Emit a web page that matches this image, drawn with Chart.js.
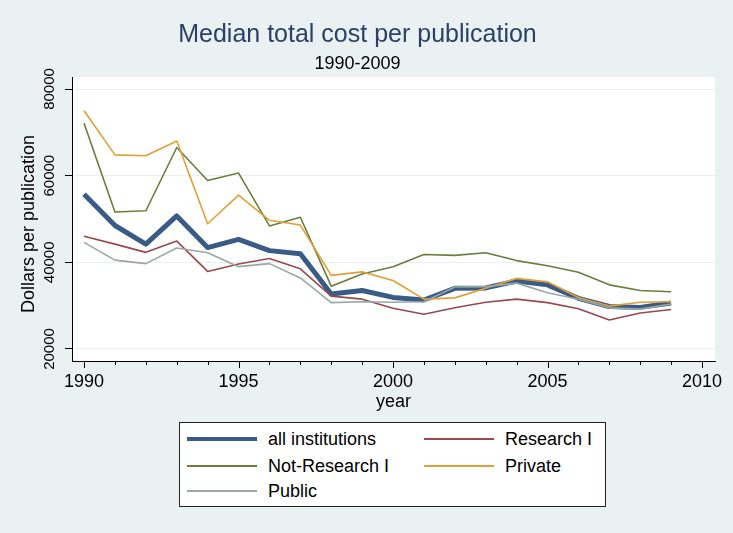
<!DOCTYPE html>
<html>
<head>
<meta charset="utf-8">
<script src="https://cdn.jsdelivr.net/npm/chart.js@4"></script>
<style>
  html, body { margin: 0; padding: 0; background: #eaf1f3; }
  #wrap { position: relative; width: 733px; height: 533px; }
  #legend {
    position: absolute; left: 179px; top: 422px; width: 425px; height: 83px;
    background: #fff; border: 1px solid #222;
    font-family: 'Liberation Sans', Arial, sans-serif; font-size: 18px; color: #000;
  }
  .item { position: absolute; height: 24px; }
  .swatch { position: absolute; left: 0; width: 70px; }
  .item span { position: absolute; left: 81px; top: 0; line-height: 24px; white-space: nowrap; }
</style>
</head>
<body>
<div id="wrap">
  <canvas id="costChart" width="733" height="533"></canvas>
  <div id="legend"></div>
</div>
<script>
const years = [1990, 1991, 1992, 1993, 1994, 1995, 1996, 1997, 1998, 1999,
               2000, 2001, 2002, 2003, 2004, 2005, 2006, 2007, 2008, 2009];

const allInstitutions = [55700, 48500, 44200, 50700, 43400, 45300, 42700, 42000, 32700, 33500,
                         31900, 31300, 34000, 34100, 35700, 34800, 31700, 29800, 29600, 30600];
const researchI = [46000, 44200, 42300, 44900, 37900, 39600, 40900, 38500, 32200, 31500,
                   29400, 28000, 29500, 30800, 31500, 30700, 29300, 26700, 28300, 29100];
const notResearchI = [72100, 51600, 51900, 66500, 58900, 60600, 48400, 50400, 34500, 37300,
                      39000, 41800, 41600, 42200, 40400, 39200, 37700, 34800, 33500, 33200];
const privateInst = [75000, 64800, 64600, 68000, 48900, 55500, 49700, 48600, 37000, 37800,
                     35800, 31500, 31800, 34000, 36300, 35500, 31900, 29900, 30800, 30900];
const publicInst = [44600, 40500, 39700, 43300, 42200, 39000, 39700, 36400, 30700, 30900,
                    30800, 30900, 34300, 34400, 35200, 33000, 31500, 29500, 29200, 30400];

const seriesNames = ['all institutions', 'Research I', 'Not-Research I', 'Private', 'Public'];
const yTicks = [20000, 40000, 60000, 80000];
const xLabels = [1990, 1995, 2000, 2005, 2010];
const xMinor = [1990, 1991, 1992, 1993, 1994, 1995, 1996, 1997, 1998, 1999, 2000,
                2001, 2002, 2003, 2004, 2005, 2006, 2007, 2008, 2009, 2010];

const FONT = "'Liberation Sans', Arial, sans-serif";
Chart.defaults.font.family = FONT;
Chart.defaults.color = '#000';

function series(values) {
    return values.map((v, i) => ({ x: years[i], y: v }));
}

const datasets = [
    { label: seriesNames[0], data: series(allInstitutions), borderColor: '#3b5b87', borderWidth: 5, order: 5 },
    { label: seriesNames[1], data: series(researchI), borderColor: '#98494e', borderWidth: 1.6, order: 4 },
    { label: seriesNames[2], data: series(notResearchI), borderColor: '#6b7d3c', borderWidth: 1.6, order: 3 },
    { label: seriesNames[3], data: series(privateInst), borderColor: '#e0a035', borderWidth: 1.6, order: 2 },
    { label: seriesNames[4], data: series(publicInst), borderColor: '#98a8a6', borderWidth: 1.6, order: 1 }
];
datasets.forEach(d => {
    d.pointRadius = 0;
    d.tension = 0;
    d.fill = false;
    d.borderJoinStyle = 'round';
});

// white plot region, minor x ticks, vertical y labels and y title
const stataAxes = {
    id: 'stataAxes',
    beforeDraw(chart) {
        const { ctx, chartArea: a } = chart;
        ctx.save();
        ctx.fillStyle = '#fff';
        ctx.fillRect(a.left, a.top, a.right - a.left, a.bottom - a.top);
        ctx.restore();
    },
    afterDraw(chart) {
        const { ctx, chartArea: a, scales: { x, y } } = chart;
        ctx.save();
        ctx.strokeStyle = '#000';
        ctx.lineWidth = 1;
        x.ticks.forEach(t => {
            const px = Math.round(x.getPixelForValue(t.value)) + 0.5;
            const len = xLabels.includes(t.value) ? 7 : 4;
            ctx.beginPath();
            ctx.moveTo(px, a.bottom);
            ctx.lineTo(px, a.bottom + len);
            ctx.stroke();
        });

        ctx.fillStyle = '#000';
        ctx.textAlign = 'center';
        ctx.textBaseline = 'middle';
        ctx.font = '15px ' + FONT;
        y.ticks.forEach(t => {
            ctx.save();
            ctx.translate(50, y.getPixelForValue(t.value));
            ctx.rotate(-Math.PI / 2);
            ctx.fillText(String(t.value), 0, 0);
            ctx.restore();
        });

        ctx.font = '18px ' + FONT;
        ctx.translate(29, 224);
        ctx.rotate(-Math.PI / 2);
        ctx.fillText('Dollars per publication', 0, 0);
        ctx.restore();
    }
};

const ctx = document.getElementById('costChart').getContext('2d');

const chart = new Chart(ctx, {
    type: 'line',
    data: { datasets },
    plugins: [stataAxes],
    options: {
        responsive: false,
        animation: false,
        devicePixelRatio: 1,
        layout: { padding: { left: 0, right: 18, top: 0, bottom: 120 } },
        plugins: {
            legend: { display: false },
            tooltip: { enabled: false },
            title: {
                display: true,
                text: 'Median total cost per publication',
                color: '#2d4068',
                font: { size: 25, weight: 'normal', family: FONT },
                padding: { top: 20, bottom: 0 }
            },
            subtitle: {
                display: true,
                text: '1990-2009',
                color: '#000',
                font: { size: 18, family: FONT },
                padding: { top: 3, bottom: 2.4 }
            }
        },
        scales: {
            x: {
                type: 'linear',
                min: 1989.61,
                max: 2010.42,
                afterBuildTicks: s => { s.ticks = xMinor.map(v => ({ value: v })); },
                afterFit: s => { s.height = 52; },
                grid: { display: false, drawTicks: false },
                border: { display: true, color: '#000', width: 1 },
                ticks: {
                    autoSkip: false,
                    maxRotation: 0,
                    padding: 10,
                    font: { size: 18 },
                    callback: v => (xLabels.includes(v) ? String(v) : '')
                },
                title: {
                    display: true,
                    text: 'year',
                    font: { size: 18 },
                    padding: { top: 0, bottom: 0 }
                }
            },
            y: {
                min: 17230,
                max: 82770,
                afterBuildTicks: s => { s.ticks = yTicks.map(v => ({ value: v })); },
                afterFit: s => { s.width = 72; },
                grid: {
                    color: '#e9eef0',
                    lineWidth: 1,
                    drawTicks: true,
                    tickLength: 7,
                    tickColor: '#000'
                },
                border: { display: true, color: '#000', width: 1 },
                ticks: { display: false }
            }
        }
    }
});

// two-column legend, built from the datasets
const legend = document.getElementById('legend');
const rowY = [16, 43, 68];
const colX = [7, 244];
datasets.forEach((d, i) => {
    const item = document.createElement('div');
    item.className = 'item';
    item.style.left = colX[i % 2] + 'px';
    item.style.top = (rowY[Math.floor(i / 2)] - 12) + 'px';
    const sw = document.createElement('div');
    sw.className = 'swatch';
    const h = d.borderWidth > 3 ? 4 : 1.5;
    sw.style.height = h + 'px';
    sw.style.top = (12 - h / 2) + 'px';
    sw.style.background = d.borderColor;
    const label = document.createElement('span');
    label.textContent = d.label;
    item.appendChild(sw);
    item.appendChild(label);
    legend.appendChild(item);
});
</script>
</body>
</html>
